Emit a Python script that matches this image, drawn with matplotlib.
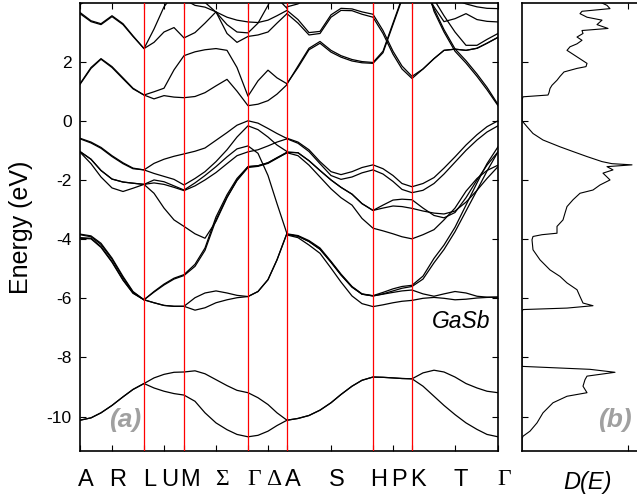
import matplotlib.pyplot as plt
from matplotlib.transforms import ScaledTranslation

plt.rcParams['font.family'] = ['Liberation Sans', 'DejaVu Sans']
plt.rcParams['axes.unicode_minus'] = False

# k path
k_sym = [0, 32, 64, 84, 104, 136, 168, 188, 207, 251, 293, 313, 332, 375, 418]
k_lab = ['A', 'R', 'L', 'U', 'M', 'Σ', 'Γ', 'Δ', 'A', 'S', 'H', 'P', 'K', 'T', 'Γ']
k_red = [64, 104, 168, 207, 293, 332]

# sample points, A-R-L-U-M-Σ-Γ-Δ-A  and  A-S-H-P-K-T-Γ
k_left = [0, 11, 21, 32, 43, 53, 64, 74, 84, 94, 104, 115, 125, 136, 147, 157, 168, 178, 188, 197, 207]
k_right = [207, 218, 229, 240, 251, 261, 272, 282, 293, 303, 313, 322, 332, 343, 354, 364, 375, 386, 397, 407, 418]

# energies (eV), first half of the path
s1_l = [-10.12, -10.04, -9.87, -9.62, -9.33, -9.08, -8.88, -9.03, -9.14, -9.22, -9.27, -9.48, -9.87, -10.21, -10.44, -10.60, -10.68, -10.63, -10.49, -10.30, -10.12]
s2_l = [-10.12, -10.04, -9.87, -9.62, -9.33, -9.08, -8.88, -8.69, -8.57, -8.50, -8.49, -8.45, -8.55, -8.75, -8.95, -9.11, -9.19, -9.36, -9.59, -9.87, -10.12]
m1_l = [-3.83, -3.89, -4.14, -4.64, -5.26, -5.77, -6.05, -5.77, -5.52, -5.32, -5.20, -4.85, -4.30, -3.25, -2.50, -1.95, -1.55, -1.52, -1.42, -1.25, -1.08]
m2_l = [-3.85, -3.92, -4.18, -4.68, -5.30, -5.79, -6.05, -5.79, -5.55, -5.35, -5.23, -4.92, -4.38, -3.35, -2.58, -2.02, -1.58, -1.54, -1.44, -1.27, -1.08]
m3_l = [-3.95, -3.97, -4.25, -4.76, -5.37, -5.82, -6.05, -6.15, -6.24, -6.27, -6.27, -5.98, -5.82, -5.75, -5.82, -5.90, -5.94, -5.77, -5.37, -4.70, -3.80]
m4_l = [-3.97, -3.99, -4.28, -4.78, -5.39, -5.83, -6.05, -6.15, -6.24, -6.27, -6.27, -6.40, -6.32, -6.15, -6.05, -5.98, -5.94, -5.77, -5.37, -4.70, -3.80]
v1_l = [-0.59, -0.72, -0.90, -1.18, -1.42, -1.60, -1.66, -1.44, -1.30, -1.20, -1.12, -1.03, -0.92, -0.66, -0.40, -0.15, 0.00, -0.08, -0.26, -0.43, -0.60]
v2_l = [-0.61, -0.75, -0.93, -1.21, -1.45, -1.62, -1.66, -1.78, -1.88, -1.98, -2.17, -1.95, -1.72, -1.38, -0.98, -0.55, -0.17, -0.30, -0.55, -0.82, -1.04]
v3_l = [-1.04, -1.30, -1.68, -1.97, -2.07, -2.11, -2.15, -2.00, -2.06, -2.20, -2.34, -2.10, -1.85, -1.55, -1.22, -0.95, -0.85, -1.10, -1.85, -2.80, -3.82]
v4_l = [-1.06, -1.45, -1.90, -2.27, -2.39, -2.28, -2.15, -2.10, -2.15, -2.25, -2.36, -2.20, -2.00, -1.75, -1.45, -1.18, -1.05, -0.98, -0.85, -0.72, -0.61]
v5_l = [-1.04, -1.30, -1.68, -1.97, -2.07, -2.11, -2.15, -2.45, -2.95, -3.35, -3.57, -3.82, -3.97, -3.40, -2.60, -2.00, -1.55, -1.52, -1.42, -1.25, -1.06]
c1_l = [1.23, 1.77, 2.08, 1.80, 1.42, 1.08, 0.87, 0.74, 0.85, 0.80, 0.78, 0.82, 0.95, 1.18, 1.40, 1.00, 0.51, 0.56, 0.68, 0.90, 1.22]
c2_l = [1.25, 1.80, 2.10, 1.83, 1.45, 1.10, 0.87, 0.98, 1.10, 1.72, 2.20, 2.33, 2.40, 2.44, 2.38, 1.80, 0.83, 1.35, 1.71, 1.45, 1.25]
c3_l = [3.62, 3.35, 3.25, 3.52, 3.25, 2.85, 2.44, 2.65, 3.00, 3.15, 2.80, 2.98, 3.30, 3.68, 2.95, 2.65, 2.85, 2.90, 3.00, 3.30, 3.62]
c4_l = [3.66, 3.38, 3.28, 3.55, 3.28, 2.87, 2.44, 3.10, 3.85, 4.30, 4.10, 3.90, 3.84, 3.68, 3.50, 3.40, 3.34, 3.32, 3.40, 3.55, 3.73]
c5_l = [5.00, 5.00, 5.00, 5.00, 5.00, 5.00, 5.00, 5.00, 5.00, 5.00, 5.00, 4.50, 4.00, 3.67, 3.25, 3.00, 2.97, 3.30, 3.90, 4.50, 5.00]
c6_l = [3.93, 4.15, 4.50, 4.80, 5.00, 5.00, 5.00, 5.00, 5.00, 5.00, 5.00, 5.00, 5.00, 5.00, 5.00, 5.00, 5.00, 5.00, 4.60, 4.15, 3.80]

# energies (eV), second half of the path
s1_r = [-10.12, -10.06, -9.96, -9.78, -9.53, -9.25, -8.97, -8.77, -8.66, -8.67, -8.69, -8.71, -8.72, -8.97, -9.31, -9.62, -9.93, -10.21, -10.43, -10.60, -10.68]
s2_r = [-10.12, -10.06, -9.96, -9.78, -9.53, -9.25, -8.97, -8.77, -8.66, -8.67, -8.69, -8.71, -8.72, -8.52, -8.43, -8.49, -8.66, -8.88, -9.03, -9.14, -9.19]
m1_r = [-3.82, -3.88, -4.05, -4.30, -4.75, -5.18, -5.60, -5.85, -5.91, -5.80, -5.68, -5.60, -5.56, -5.25, -4.65, -4.20, -3.60, -2.85, -2.10, -1.45, -0.88]
m2_r = [-3.84, -3.90, -4.08, -4.34, -4.78, -5.21, -5.62, -5.86, -5.92, -5.85, -5.75, -5.66, -5.60, -5.35, -4.80, -4.35, -3.75, -3.05, -2.35, -1.70, -1.05]
m3_r = [-3.86, -3.95, -4.20, -4.48, -4.98, -5.45, -5.92, -6.18, -6.28, -6.22, -6.15, -6.10, -6.07, -6.00, -5.97, -6.00, -6.05, -6.03, -5.99, -5.97, -5.96]
m4_r = [-3.84, -3.90, -4.08, -4.34, -4.78, -5.21, -5.62, -5.86, -5.92, -5.86, -5.80, -5.75, -5.72, -5.85, -5.93, -5.85, -5.77, -5.82, -5.93, -5.96, -5.96]
v1_r = [-0.59, -0.72, -0.98, -1.38, -1.72, -1.82, -1.72, -1.58, -1.49, -1.62, -1.85, -2.12, -2.23, -2.12, -1.92, -1.60, -1.22, -0.82, -0.47, -0.20, 0.00]
v2_r = [-0.61, -0.76, -1.04, -1.45, -1.85, -1.98, -1.90, -1.76, -1.66, -1.80, -2.05, -2.32, -2.43, -2.35, -2.12, -1.80, -1.40, -1.00, -0.65, -0.38, -0.17]
v3_r = [-1.06, -1.08, -1.35, -1.68, -2.00, -2.25, -2.48, -2.80, -3.03, -2.85, -2.68, -2.65, -2.67, -2.95, -3.20, -3.28, -3.10, -2.60, -2.00, -1.50, -1.05]
v4_r = [-1.06, -1.08, -1.35, -1.68, -2.00, -2.25, -2.48, -2.80, -3.03, -2.95, -2.88, -2.90, -2.96, -3.05, -3.12, -3.15, -3.05, -2.75, -2.35, -1.95, -1.55]
v5_r = [-1.08, -1.18, -1.50, -1.90, -2.30, -2.60, -2.85, -3.30, -3.63, -3.72, -3.82, -3.92, -3.99, -3.85, -3.68, -3.35, -2.95, -2.38, -1.95, -1.68, -1.50]
c1_r = [1.26, 1.80, 2.40, 2.62, 2.32, 2.15, 2.02, 1.96, 1.94, 2.30, 3.25, 4.10, 4.60, 5.00, 5.00, 5.00, 5.00, 5.00, 5.00, 5.00, 5.00]
c2_r = [1.24, 1.85, 2.45, 2.68, 2.38, 2.20, 2.07, 2.00, 1.97, 2.35, 3.30, 4.15, 4.65, 5.00, 5.00, 5.00, 5.00, 5.00, 5.00, 5.00, 5.00]
c3_r = [3.62, 3.30, 2.90, 2.95, 3.50, 3.73, 3.72, 3.60, 3.50, 2.95, 2.25, 1.75, 1.43, 1.75, 2.10, 2.38, 2.42, 2.38, 2.45, 2.62, 2.82]
c4_r = [3.73, 3.42, 2.98, 3.02, 3.58, 3.80, 3.78, 3.68, 3.60, 3.05, 2.35, 1.85, 1.50, 1.75, 2.10, 2.38, 2.42, 2.38, 2.45, 2.62, 2.82]
c5_r = [5.00, 5.00, 5.00, 5.00, 5.00, 5.00, 5.00, 5.00, 5.00, 5.00, 5.00, 5.00, 5.00, 4.60, 3.78, 3.08, 2.43, 2.03, 1.58, 1.13, 0.55]
c6_r = [5.00, 5.00, 5.00, 5.00, 5.00, 5.00, 5.00, 5.00, 5.00, 5.00, 5.00, 5.00, 5.00, 4.50, 3.85, 3.35, 3.45, 3.62, 3.42, 3.36, 3.34]
c7_r = [5.00, 5.00, 5.00, 5.00, 5.00, 5.00, 5.00, 5.00, 5.00, 5.00, 5.00, 5.00, 5.00, 4.60, 4.10, 3.55, 3.00, 2.55, 2.55, 2.75, 2.95]
c8_r = [3.85, 3.95, 4.20, 5.00, 5.00, 5.00, 5.00, 5.00, 5.00, 5.00, 5.00, 5.00, 5.00, 5.00, 5.00, 4.40, 4.10, 3.95, 3.85, 3.80, 3.79]
c9_r = [5.00, 5.00, 5.00, 5.00, 5.00, 5.00, 5.00, 5.00, 5.00, 5.00, 5.00, 5.00, 5.00, 5.00, 3.70, 3.00, 2.35, 1.95, 1.50, 1.05, 0.51]

# density of states, D(E) in arbitrary units
dos_e = [3.98, 3.90, 3.79, 3.70, 3.62, 3.50, 3.40, 3.25, 3.12, 3.05, 2.95, 2.83, 2.72, 2.60, 2.50, 2.38, 2.27, 2.16, 2.05, 1.94, 1.83,
         1.77, 1.65, 1.50, 1.37, 1.20, 1.09, 0.95, 0.87, 0.81, 0.70, 0.00, -0.20, -0.43, -0.65, -0.88, -1.04, -1.21, -1.38, -1.45,
         -1.49, -1.55, -1.66, -1.77, -1.90, -2.00, -2.17, -2.34, -2.45, -2.67, -2.90, -3.12, -3.35, -3.57, -3.80, -3.85, -3.91,
         -4.02, -4.36, -4.70, -5.04, -5.26, -5.48, -5.71, -5.94, -6.16, -6.25, -6.33, -6.38, -6.45, -8.30, -8.40, -8.50, -8.63,
         -8.75, -8.97, -9.19, -9.31, -9.53, -9.87, -10.21, -10.49, -10.66, -10.75, -11.16]
dos_v = [80, 85, 88, 60, 58, 65, 80, 75, 86, 60, 61, 55, 60, 55, 48, 45, 50, 55, 60, 65, 64,
         55, 42, 38, 35, 30, 28, 27, 26, 1, 0, 0, 5, 11, 21, 38, 51, 65, 80, 90,
         110, 85, 91, 81, 85, 88, 78, 71, 58, 51, 45, 43, 41, 35, 35, 20, 11,
         10, 11, 18, 28, 38, 45, 55, 58, 61, 71, 45, 1, 0, 0, 68, 93, 65,
         63, 61, 65, 45, 31, 21, 15, 8, 1, 0, 0]

bands_l = [s1_l, s2_l, m1_l, m2_l, m3_l, m4_l, v1_l, v2_l, v3_l, v4_l, v5_l, c1_l, c2_l, c3_l, c4_l, c5_l, c6_l]
bands_r = [s1_r, s2_r, m1_r, m2_r, m3_r, m4_r, v1_r, v2_r, v3_r, v4_r, v5_r, c1_r, c2_r, c3_r, c4_r, c5_r, c6_r, c7_r, c8_r, c9_r]

fig = plt.figure(figsize=(6.37, 5.01), dpi=100)
W, H = 637, 501
ax = fig.add_axes([80 / W, 50 / H, 418 / W, 448 / H])
ax2 = fig.add_axes([522 / W, 50 / H, 138 / W, 448 / H])

for b in bands_l:
    ax.plot(k_left, b, color='black', lw=0.9)
for b in bands_r:
    ax.plot(k_right, b, color='black', lw=0.9)
for k in k_red:
    ax.axvline(k, color='red', lw=0.9, zorder=3)

ax.set_xlim(0, 418)
ax.set_ylim(-11.16, 3.98)
ax.set_yticks([-10, -8, -6, -4, -2, 0, 2])
ax.set_xticks(k_sym)
ax.set_xticklabels(k_lab, fontsize=17)
ax.tick_params(axis='both', direction='in', top=True, right=True, length=4, width=0.8)
ax.tick_params(axis='y', labelsize=12.5, pad=6)
ax.tick_params(axis='x', pad=13)
shift = ScaledTranslation(6 / 100, 0, fig.dpi_scale_trans)
for lbl in ax.get_xticklabels():
    lbl.set_transform(lbl.get_transform() + shift)
    if lbl.get_text() in 'ΓΣΔ':
        lbl.set_fontfamily(['Liberation Serif', 'DejaVu Serif'])
ax.set_ylabel('Energy (eV)', fontsize=18)
ax.yaxis.set_label_coords(-0.112, 0.5)
for sp in ax.spines.values():
    sp.set_linewidth(1.2)

ax.text(0.108, 0.07, '(a)', transform=ax.transAxes, fontsize=19, fontweight='bold',
        fontstyle='italic', color='#a0a0a0', ha='center', va='center')
ax.text(0.911, 0.29, 'GaSb', transform=ax.transAxes, fontsize=16.5, fontstyle='italic',
        ha='center', va='center')

ax2.plot(dos_v, dos_e, color='black', lw=0.8)
ax2.set_xlim(0, 138)
ax2.set_ylim(-11.16, 3.98)
ax2.set_yticks([-10, -8, -6, -4, -2, 0, 2])
ax2.set_xticks([106])
ax2.tick_params(axis='both', direction='in', top=True, length=4, width=0.8,
                labelleft=False, labelbottom=False)
for sp in ax2.spines.values():
    sp.set_linewidth(1.2)
ax2.text(0.674, 0.07, '(b)', transform=ax2.transAxes, fontsize=19, fontweight='bold',
         fontstyle='italic', color='#a0a0a0', ha='center', va='center')
fig.text(588 / W, 1 - 482 / H, 'D(E)', fontsize=17, fontstyle='italic', ha='center', va='center')

fig.savefig('out.png', dpi=100)
